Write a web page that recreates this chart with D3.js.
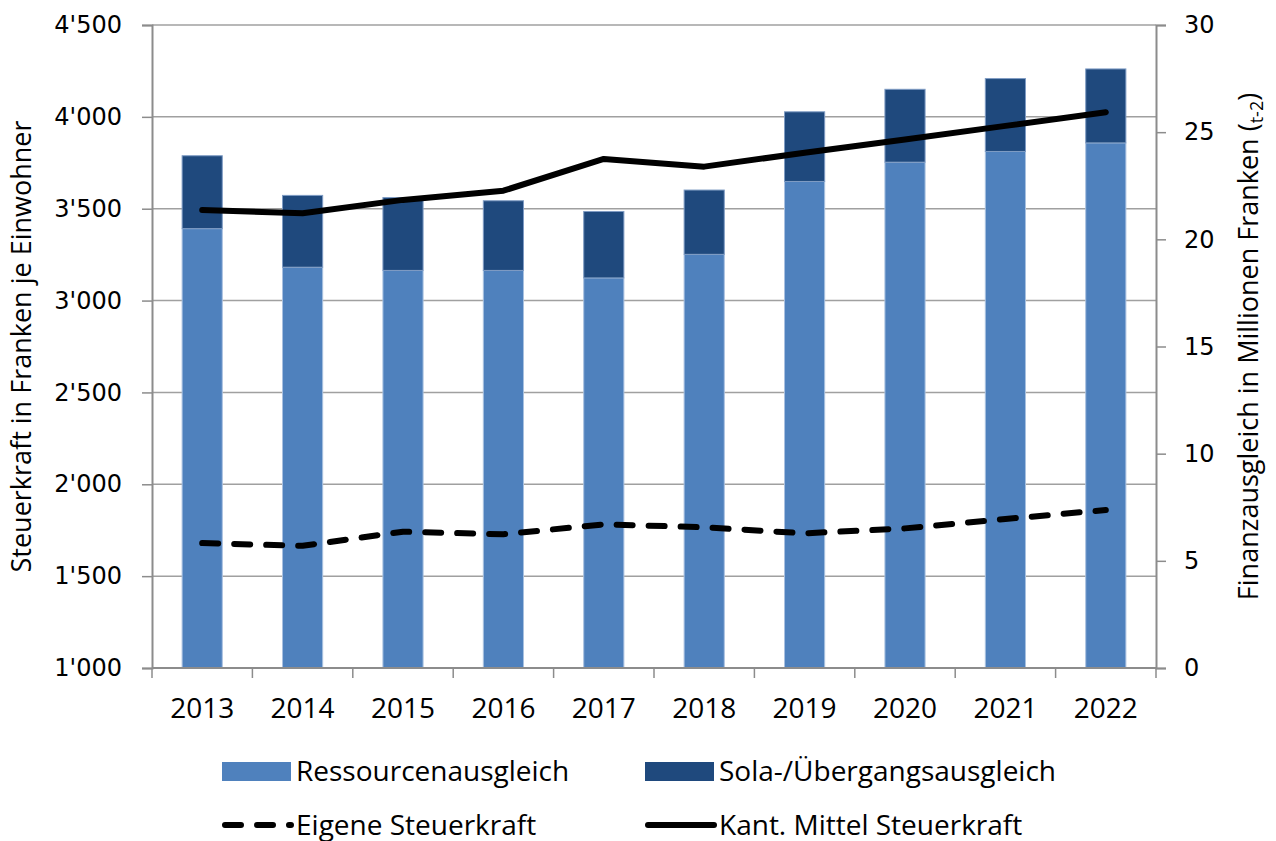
<!DOCTYPE html>
<html>
<head>
<meta charset="utf-8">
<script src="https://cdn.jsdelivr.net/npm/d3@7"></script>
<style>
  body { margin: 0; background: #fff; }
  svg { display: block; }
</style>
</head>
<body>
<div id="chart"></div>
<script>
var years = ["2013", "2014", "2015", "2016", "2017", "2018", "2019", "2020", "2021", "2022"];
// Millionen Franken (rechte Achse)
var ressourcen = [20.5, 18.7, 18.55, 18.55, 18.2, 19.3, 22.7, 23.6, 24.1, 24.5];
var sola = [3.4, 3.35, 3.4, 3.25, 3.1, 3.0, 3.25, 3.4, 3.4, 3.45];
// Franken je Einwohner (linke Achse)
var eigene = [1680, 1665, 1742, 1728, 1782, 1766, 1733, 1760, 1811, 1860];
var kantMittel = [3493, 3475, 3548, 3598, 3771, 3729, 3805, 3877, 3951, 4025];

var leftTicks = [1000, 1500, 2000, 2500, 3000, 3500, 4000, 4500];
var rightTicks = [0, 5, 10, 15, 20, 25, 30];

var w = 1276;
var h = 841;
var plotL = 152, plotR = 1156, plotT = 25, plotB = 668;
var gray = "#8c8c8c";
var textFont = "'Open Sans', sans-serif";
var numFont = "'DejaVu Sans', Verdana, sans-serif";

var svg = d3.select("#chart").append("svg").attr("width", w).attr("height", h);
svg.append("rect").attr("width", w).attr("height", h).attr("fill", "#fff");

var x = d3.scaleBand().domain(years).range([plotL, plotR]).paddingInner(0.6).paddingOuter(0.3);
var yL = d3.scaleLinear().domain([1000, 4500]).range([plotB, plotT]);
var yR = d3.scaleLinear().domain([0, 30]).range([plotB, plotT]);
var step = (plotR - plotL) / years.length;

// gridlines
svg.selectAll("line.grid")
  .data(leftTicks.slice(1))
  .enter()
  .append("line")
  .attr("class", "grid")
  .attr("x1", plotL)
  .attr("x2", plotR)
  .attr("y1", function (d) { return yL(d); })
  .attr("y2", function (d) { return yL(d); })
  .attr("stroke", "#a0a0a0")
  .attr("stroke-width", 1.5);

// bars
var stacked = years.map(function (y, i) {
  return { year: y, r: ressourcen[i], s: sola[i] };
});

svg.selectAll("rect.res")
  .data(stacked)
  .enter()
  .append("rect")
  .attr("class", "res")
  .attr("x", function (d) { return x(d.year); })
  .attr("y", function (d) { return yR(d.r); })
  .attr("width", x.bandwidth())
  .attr("height", function (d) { return yR(0) - yR(d.r); })
  .attr("fill", "#4f81bd")
  .attr("stroke", "#a9c1e0")
  .attr("stroke-width", 1);

svg.selectAll("rect.sola")
  .data(stacked)
  .enter()
  .append("rect")
  .attr("class", "sola")
  .attr("x", function (d) { return x(d.year); })
  .attr("y", function (d) { return yR(d.r + d.s); })
  .attr("width", x.bandwidth())
  .attr("height", function (d) { return yR(d.r) - yR(d.r + d.s); })
  .attr("fill", "#1f497d")
  .attr("stroke", "#7f9cc4")
  .attr("stroke-width", 1);

// axes
var axisL = svg.append("g")
  .attr("transform", "translate(" + plotL + ",0)")
  .call(d3.axisLeft(yL).tickValues(leftTicks).tickSize(10).tickPadding(20)
    .tickFormat(function (d) { return d3.format(",")(d).replace(",", "'"); }));
axisL.select(".domain").attr("stroke", gray).attr("stroke-width", 2);
axisL.selectAll(".tick line").attr("stroke", gray).attr("stroke-width", 1.5);
axisL.selectAll("text").attr("font-family", numFont).attr("font-size", "24px").attr("fill", "#000");

var axisR = svg.append("g")
  .attr("transform", "translate(" + plotR + ",0)")
  .call(d3.axisRight(yR).tickValues(rightTicks).tickSize(10).tickPadding(18));
axisR.select(".domain").attr("stroke", gray).attr("stroke-width", 2);
axisR.selectAll(".tick line").attr("stroke", gray).attr("stroke-width", 1.5);
axisR.selectAll("text").attr("font-family", numFont).attr("font-size", "24px").attr("fill", "#000");

var axisB = svg.append("g")
  .attr("transform", "translate(0," + plotB + ")")
  .call(d3.axisBottom(x).tickSize(0).tickPadding(30));
axisB.select(".domain").remove();
axisB.selectAll("text").attr("font-family", textFont).attr("font-size", "28px").attr("fill", "#000");
svg.append("line")
  .attr("x1", plotL).attr("x2", plotR)
  .attr("y1", plotB).attr("y2", plotB)
  .attr("stroke", gray).attr("stroke-width", 2);
svg.selectAll("line.xtick")
  .data(d3.range(years.length + 1))
  .enter()
  .append("line")
  .attr("class", "xtick")
  .attr("x1", function (d) { return plotL + d * step; })
  .attr("x2", function (d) { return plotL + d * step; })
  .attr("y1", plotB)
  .attr("y2", plotB + 10)
  .attr("stroke", gray)
  .attr("stroke-width", 1.5);

// lines
var cx = function (d, i) { return x(years[i]) + x.bandwidth() / 2; };

svg.append("path")
  .datum(eigene)
  .attr("d", d3.line().x(cx).y(function (d) { return yL(d); }))
  .attr("fill", "none")
  .attr("stroke", "#000")
  .attr("stroke-width", 6)
  .attr("stroke-linecap", "round")
  .attr("stroke-linejoin", "round")
  .attr("stroke-dasharray", "16,16");

svg.append("path")
  .datum(kantMittel)
  .attr("d", d3.line().x(cx).y(function (d) { return yL(d); }))
  .attr("fill", "none")
  .attr("stroke", "#000")
  .attr("stroke-width", 6)
  .attr("stroke-linecap", "round")
  .attr("stroke-linejoin", "round");

// axis titles
svg.append("text")
  .attr("transform", "translate(31," + (plotT + plotB) / 2 + ") rotate(-90)")
  .attr("text-anchor", "middle")
  .attr("font-family", textFont)
  .attr("font-size", "27px")
  .text("Steuerkraft in Franken je Einwohner");

var rt = svg.append("text")
  .attr("transform", "translate(1258," + (plotT + plotB) / 2 + ") rotate(-90)")
  .attr("text-anchor", "middle")
  .attr("font-family", textFont)
  .attr("font-size", "27px");
rt.append("tspan").text("Finanzausgleich in Millionen Franken (");
rt.append("tspan").attr("font-size", "18px").attr("dy", 5).text("t-2");
rt.append("tspan").attr("dy", -5).text(")");

// legend
var legendItems = [
  { label: "Ressourcenausgleich", type: "rect", color: "#4f81bd", x: 222, y: 771 },
  { label: "Sola-/Übergangsausgleich", type: "rect", color: "#1f497d", x: 645, y: 771 },
  { label: "Eigene Steuerkraft", type: "dash", color: "#000", x: 222, y: 825 },
  { label: "Kant. Mittel Steuerkraft", type: "line", color: "#000", x: 645, y: 825 }
];

var lg = svg.selectAll("g.legend")
  .data(legendItems)
  .enter()
  .append("g")
  .attr("class", "legend")
  .attr("transform", function (d) { return "translate(" + d.x + "," + d.y + ")"; });

lg.filter(function (d) { return d.type === "rect"; })
  .append("rect")
  .attr("x", 0).attr("y", -9)
  .attr("width", 69).attr("height", 19)
  .attr("fill", function (d) { return d.color; });

lg.filter(function (d) { return d.type === "dash"; })
  .append("path")
  .attr("d", "M3,0 H69")
  .attr("stroke", "#000")
  .attr("stroke-width", 6)
  .attr("stroke-linecap", "round")
  .attr("stroke-dasharray", "16,16");

lg.filter(function (d) { return d.type === "line"; })
  .append("path")
  .attr("d", "M3,0 H69")
  .attr("stroke", "#000")
  .attr("stroke-width", 6)
  .attr("stroke-linecap", "round");

lg.append("text")
  .attr("x", 74)
  .attr("y", 0)
  .attr("dy", "0.35em")
  .attr("font-family", textFont)
  .attr("font-size", "28px")
  .text(function (d) { return d.label; });
</script>
</body>
</html>
